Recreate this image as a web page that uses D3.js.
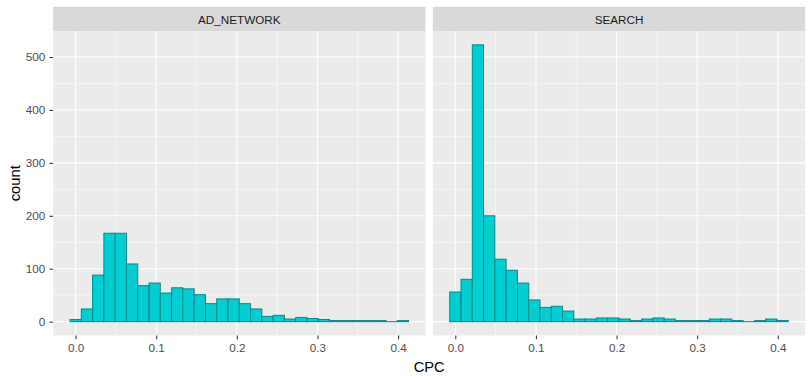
<!DOCTYPE html>
<html>
<head>
<meta charset="utf-8">
<script src="https://cdn.jsdelivr.net/npm/d3@7"></script>
<style>
  html, body { margin: 0; padding: 0; background: #ffffff; }
  svg { display: block; font-family: "Liberation Sans", Arial, sans-serif; }
</style>
</head>
<body>
<svg id="chart" width="810" height="376"></svg>
<script>
// ---- data ----
const facets = ["AD_NETWORK", "SEARCH"];
const binCount = 30;
const cpcMin = 0.0001;   // centre of first bin
const cpcMax = 0.406;    // centre of last bin
const adNetworkCounts = [4, 24, 88, 167, 167, 109, 68, 73, 54, 64, 62, 51, 34, 43, 43, 34, 24, 10, 12, 5, 8, 6, 4, 2, 2, 2, 2, 2, 0, 2];
const searchCounts    = [56, 80, 523, 200, 118, 97, 73, 41, 27, 29, 20, 5, 5, 7, 7, 5, 2, 5, 7, 5, 2, 2, 2, 5, 5, 2, 0, 2, 5, 2];
const xTicks = [0.0, 0.1, 0.2, 0.3, 0.4];
const xMinor = [0.05, 0.15, 0.25, 0.35];
const yTicks = [0, 100, 200, 300, 400, 500];
const yMinor = [50, 150, 250, 350, 450];
const xTitle = "CPC";
const yTitle = "count";

// ---- layout ----
const svg = d3.select("#chart");
const panelTop = 31, panelBottom = 335.5, stripTop = 6.8;
const panelW = 372.4, panelGap = 7.3, firstLeft = 53.1;

const bw = (cpcMax - cpcMin) / (binCount - 1);
const bins = d3.range(binCount).map(i => ({ x0: cpcMin + (i - 0.5) * bw, x1: cpcMin + (i + 0.5) * bw }));
const lo = bins[0].x0, hi = bins[binCount - 1].x1;
const xPad = (hi - lo) * 0.05;
const yMax = d3.max([...adNetworkCounts, ...searchCounts]);
const yPad = yMax * 0.05;

const x = d3.scaleLinear().domain([lo - xPad, hi + xPad]).range([0, panelW]);
const y = d3.scaleLinear().domain([-yPad, yMax + yPad]).range([panelBottom, panelTop]);

const seriesByFacet = { "AD_NETWORK": adNetworkCounts, "SEARCH": searchCounts };

facets.forEach((name, fi) => {
  const left = firstLeft + fi * (panelW + panelGap);
  const g = svg.append("g").attr("transform", `translate(${left},0)`);

  // strip
  g.append("rect").attr("x", 0).attr("y", stripTop).attr("width", panelW).attr("height", panelTop - stripTop).attr("fill", "#D9D9D9");
  g.append("text").attr("x", panelW / 2).attr("y", 23.8).attr("text-anchor", "middle")
    .attr("font-size", "11.7px").attr("fill", "#1A1A1A").text(name);

  // panel
  g.append("rect").attr("x", 0).attr("y", panelTop).attr("width", panelW).attr("height", panelBottom - panelTop).attr("fill", "#EBEBEB");

  // grid
  yMinor.forEach(v => g.append("line").attr("x1", 0).attr("x2", panelW).attr("y1", y(v)).attr("y2", y(v)).attr("stroke", "#fff").attr("stroke-width", 0.53));
  xMinor.forEach(v => g.append("line").attr("x1", x(v)).attr("x2", x(v)).attr("y1", panelTop).attr("y2", panelBottom).attr("stroke", "#fff").attr("stroke-width", 0.53));
  yTicks.forEach(v => g.append("line").attr("x1", 0).attr("x2", panelW).attr("y1", y(v)).attr("y2", y(v)).attr("stroke", "#fff").attr("stroke-width", 1.07));
  xTicks.forEach(v => g.append("line").attr("x1", x(v)).attr("x2", x(v)).attr("y1", panelTop).attr("y2", panelBottom).attr("stroke", "#fff").attr("stroke-width", 1.07));

  // bars (zero-count bins still draw their outline, as ggplot does)
  const counts = seriesByFacet[name];
  g.selectAll("rect.bar").data(bins.map((b, i) => ({ ...b, c: counts[i] }))).enter()
    .append("rect").attr("class", "bar")
    .attr("x", d => x(d.x0)).attr("width", d => x(d.x1) - x(d.x0))
    .attr("y", d => Math.min(y(d.c), y(0) - 0.01)).attr("height", d => Math.max(0.01, y(0) - y(d.c)))
    .attr("fill", "#00CED1").attr("stroke", "#008B8B").attr("stroke-width", 1);

  // x axis
  const xa = g.append("g").attr("transform", `translate(0,${panelBottom})`)
    .call(d3.axisBottom(x).tickValues(xTicks).tickFormat(d3.format(".1f")).tickSizeOuter(0).tickSize(3.67).tickPadding(4.5));
  xa.select(".domain").remove();
  xa.selectAll("line").attr("stroke", "#333333").attr("stroke-width", 1.07);
  xa.selectAll("text").attr("fill", "#4D4D4D").attr("font-size", "11.7px").attr("font-family", "Liberation Sans, Arial, sans-serif");

  if (fi === 0) {
    const ya = g.append("g")
      .call(d3.axisLeft(y).tickValues(yTicks).tickSizeOuter(0).tickSize(3.67).tickPadding(4.2));
    ya.select(".domain").remove();
    ya.selectAll("line").attr("stroke", "#333333").attr("stroke-width", 1.07);
    ya.selectAll("text").attr("fill", "#4D4D4D").attr("font-size", "11.7px").attr("font-family", "Liberation Sans, Arial, sans-serif");
  }
});

// axis titles
const plotCenterX = firstLeft + (2 * panelW + panelGap) / 2;
svg.append("text").attr("x", plotCenterX).attr("y", 372).attr("text-anchor", "middle")
  .attr("font-size", "14.7px").attr("fill", "#000").text(xTitle);
svg.append("text").attr("transform", `translate(19.5,${(panelTop + panelBottom) / 2}) rotate(-90)`)
  .attr("text-anchor", "middle").attr("font-size", "14.7px").attr("fill", "#000").text(yTitle);
</script>
</body>
</html>
